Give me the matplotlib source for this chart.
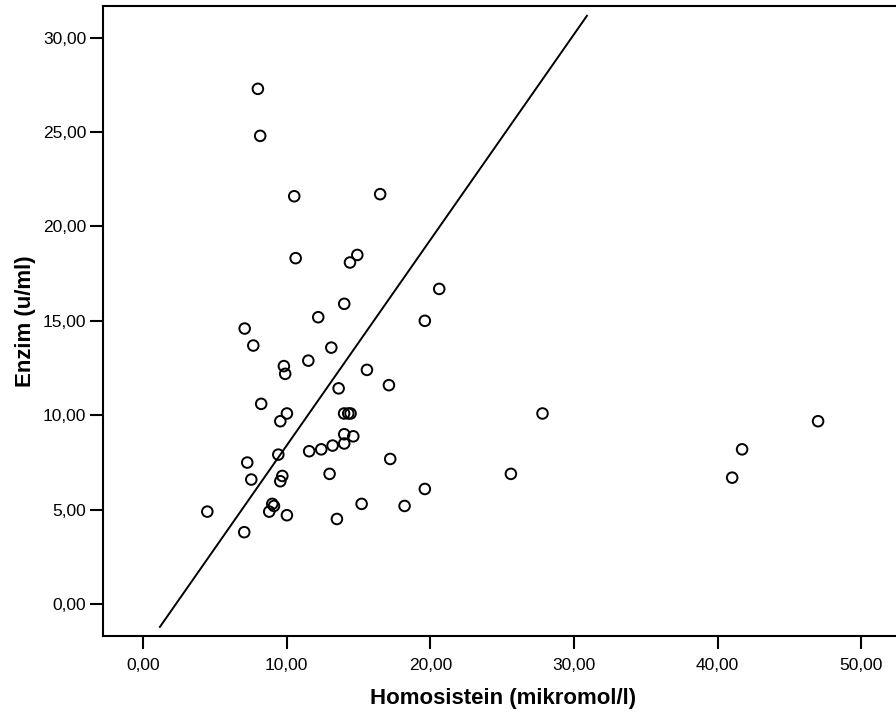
import matplotlib
matplotlib.use("Agg")
from matplotlib import pyplot as plt
from matplotlib.ticker import FuncFormatter

# Homosistein (x) ve Enzim (y) degerleri
homosistein = [8.00, 8.16, 10.53, 16.51,
               10.63, 14.92, 14.41, 20.62, 14.01, 12.20, 19.62, 7.08, 7.68, 13.11,
               11.51, 9.81, 9.90, 15.59, 17.12, 13.62, 8.23, 10.02, 9.56, 14.00,
               14.29, 14.45, 27.81, 14.01, 14.64, 14.01, 13.20, 12.41, 11.57, 9.42,
               17.21, 7.26, 12.99, 25.61, 9.70, 7.54, 9.56, 19.62, 15.22, 9.00,
               9.12, 18.21, 8.79, 4.48, 10.02, 13.50, 7.05,
               46.99, 41.70, 41.01]
enzim = [27.29, 24.80, 21.60, 21.71,
         18.32, 18.49, 18.09, 16.69, 15.90, 15.19, 15.00, 14.59, 13.69, 13.58,
         12.89, 12.60, 12.19, 12.40, 11.59, 11.42, 10.60, 10.09, 9.68, 10.09,
         10.09, 10.09, 10.09, 8.99, 8.88, 8.50, 8.39, 8.19, 8.09, 7.91,
         7.68, 7.49, 6.89, 6.89, 6.78, 6.59, 6.50, 6.09, 5.30, 5.30,
         5.19, 5.19, 4.89, 4.89, 4.70, 4.50, 3.80,
         9.68, 8.19, 6.69]

# uyum cizgisi uc noktalari
cizgi_x = [1.18, 30.90]
cizgi_y = [-1.22, 31.16]

xticks = [0, 10, 20, 30, 40, 50]
yticks = [0, 5, 10, 15, 20, 25, 30]

plt.rcParams['font.family'] = ['Liberation Sans', 'DejaVu Sans']

fig = plt.figure(figsize=(8.96, 7.15), dpi=100)
ax = fig.add_axes([103 / 896, 1 - 636 / 715, 800 / 896, 630 / 715])

ax.plot(cizgi_x, cizgi_y, color='black', linewidth=1.4)
ax.scatter(homosistein, enzim, s=58, facecolors='none', edgecolors='black',
           linewidths=1.4, zorder=3)

ax.set_xlim(-2.78, 52.9)
ax.set_ylim(-1.70, 31.68)
ax.set_xticks(xticks)
ax.set_yticks(yticks)
virgul = FuncFormatter(lambda v, p: f"{v:.2f}".replace('.', ','))
ax.xaxis.set_major_formatter(virgul)
ax.yaxis.set_major_formatter(virgul)
ax.tick_params(direction='out', length=9.5, width=1.5, labelsize=12.5)
ax.tick_params(axis='x', pad=6)
ax.tick_params(axis='y', pad=2.5)

ax.spines['right'].set_visible(False)
for s in ['left', 'bottom', 'top']:
    ax.spines[s].set_linewidth(1.5)

ax.set_xlabel("Homosistein (mikromol/l)", fontsize=16, fontweight='bold', labelpad=11)
ax.set_ylabel("Enzim (u/ml)", fontsize=16, fontweight='bold', labelpad=5)

plt.savefig("out.png", dpi=100)
